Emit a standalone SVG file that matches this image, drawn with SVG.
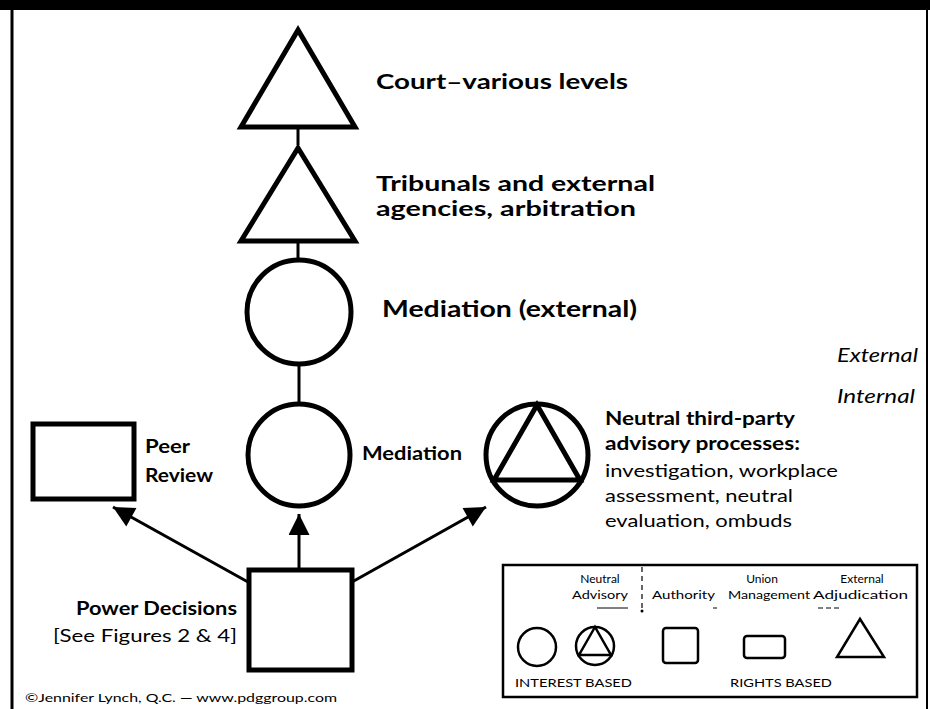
<svg xmlns="http://www.w3.org/2000/svg" width="930" height="709" viewBox="0 0 930 709">
<style>
.sh{fill:none;stroke:#000;stroke-width:5;stroke-linejoin:miter}
.lsh{fill:none;stroke:#000;stroke-width:2.5}
.ln{stroke:#000;stroke-width:3;fill:none}
.b{font-family:Lato,"Open Sans",sans-serif;font-weight:bold;fill:#000}
.r{font-family:Lato,"Open Sans",sans-serif;fill:#000}
.i{font-family:Lato,"Open Sans",sans-serif;font-style:italic;fill:#000}
.lg{font-family:Lato,"Liberation Sans",sans-serif;fill:#000;font-size:12px}
</style>
<defs>
<marker id="ah" viewBox="0 0 10 10" refX="10" refY="5" markerWidth="8" markerHeight="7" markerUnits="strokeWidth" orient="auto">
<path d="M0,0 L10,5 L0,10 z" fill="#000"/>
</marker>
</defs>
<rect x="0" y="0" width="930" height="710" fill="#fff"/>
<rect x="0" y="0" width="930" height="10" fill="#000"/>
<line x1="12" y1="10" x2="12" y2="709" stroke="#000" stroke-width="3"/>
<line x1="927" y1="10" x2="927" y2="709" stroke="#000" stroke-width="2"/>

<g id="connectors">
<line class="ln" x1="298" y1="129" x2="298" y2="145"/>
<line class="ln" x1="298" y1="243" x2="298" y2="260"/>
<line class="ln" x1="299" y1="365" x2="299" y2="403"/>
<line class="ln" x1="299" y1="568" x2="299" y2="514" marker-end="url(#ah)"/>
<line class="ln" x1="248" y1="582" x2="113" y2="507" marker-end="url(#ah)"/>
<line class="ln" x1="352" y1="582" x2="486" y2="507" marker-end="url(#ah)"/>
</g>

<g id="court">
<polygon class="sh" points="298,30 241,127 355,127"/>
<text class="b" x="376" y="89" font-size="21" textLength="252" lengthAdjust="spacingAndGlyphs">Court–various levels</text>
</g>
<g id="tribunals">
<polygon class="sh" points="298,148 241,241 355,241"/>
<text class="b" x="376" y="191" font-size="20" textLength="279" lengthAdjust="spacingAndGlyphs">Tribunals and external</text>
<text class="b" x="376" y="216" font-size="20" textLength="260" lengthAdjust="spacingAndGlyphs">agencies, arbitration</text>
</g>
<g id="mediation-external">
<circle class="sh" cx="299" cy="312" r="52" stroke-width="4.5"/>
<text class="b" x="382" y="317" font-size="22" textLength="255" lengthAdjust="spacingAndGlyphs">Mediation (external)</text>
</g>
<g id="scope">
<text class="i" x="837" y="362" font-size="19" textLength="81" lengthAdjust="spacingAndGlyphs">External</text>
<text class="i" x="837" y="403" font-size="19" textLength="78" lengthAdjust="spacingAndGlyphs">Internal</text>
</g>
<g id="mediation">
<circle class="sh" cx="299" cy="455" r="51" stroke-width="4.5"/>
<text class="b" x="362" y="460" font-size="19" textLength="100" lengthAdjust="spacingAndGlyphs">Mediation</text>
</g>
<g id="peer-review">
<rect class="sh" x="33" y="424" width="101" height="75"/>
<text class="b" x="145" y="453" font-size="19" textLength="45" lengthAdjust="spacingAndGlyphs">Peer</text>
<text class="b" x="145" y="482" font-size="19" textLength="68" lengthAdjust="spacingAndGlyphs">Review</text>
</g>
<g id="neutral">
<circle class="sh" cx="537" cy="455" r="51" stroke-width="4.5"/>
<polygon class="sh" points="537,405 494,480 580,480" stroke-width="4.5"/>
<text class="b" x="605" y="425" font-size="19" textLength="190" lengthAdjust="spacingAndGlyphs">Neutral third-party</text>
<text class="b" x="605" y="450" font-size="19" textLength="195" lengthAdjust="spacingAndGlyphs">advisory processes:</text>
<text class="r" x="605" y="477" font-size="18" textLength="233" lengthAdjust="spacingAndGlyphs">investigation, workplace</text>
<text class="r" x="605" y="502" font-size="18" textLength="188" lengthAdjust="spacingAndGlyphs">assessment, neutral</text>
<text class="r" x="605" y="527" font-size="18" textLength="187" lengthAdjust="spacingAndGlyphs">evaluation, ombuds</text>
</g>
<g id="power">
<rect class="sh" x="249" y="570" width="103" height="100"/>
<text class="b" x="237" y="615" font-size="19" text-anchor="end" textLength="161" lengthAdjust="spacingAndGlyphs">Power Decisions</text>
<text class="r" x="237" y="642" font-size="18" text-anchor="end" textLength="184" lengthAdjust="spacingAndGlyphs">[See Figures 2 &amp; 4]</text>
</g>
<g id="copyright">
<text class="r" x="25" y="702" font-size="12" textLength="312" lengthAdjust="spacingAndGlyphs">©Jennifer Lynch, Q.C. — www.pdggroup.com</text>
</g>

<g id="legend">
<rect x="503" y="565" width="414" height="132" fill="none" stroke="#000" stroke-width="2.5"/>
<text class="lg" x="600" y="583" text-anchor="middle">Neutral</text>
<text class="lg" x="572" y="599" textLength="56" lengthAdjust="spacingAndGlyphs">Advisory</text>
<line x1="597" y1="608" x2="628" y2="608" stroke="#000" stroke-width="1"/>
<line x1="642" y1="567" x2="642" y2="611" stroke="#000" stroke-width="1.2" stroke-dasharray="5,4"/>
<circle cx="642" cy="611" r="1.5" fill="#000"/>
<text class="lg" x="652" y="599" textLength="63" lengthAdjust="spacingAndGlyphs">Authority</text>
<line x1="713" y1="608" x2="717" y2="608" stroke="#000" stroke-width="1"/>
<text class="lg" x="762" y="583" text-anchor="middle">Union</text>
<text class="lg" x="728" y="599" textLength="82" lengthAdjust="spacingAndGlyphs">Management</text>
<text class="lg" x="862" y="583" text-anchor="middle">External</text>
<text class="lg" x="813" y="599" textLength="95" lengthAdjust="spacingAndGlyphs">Adjudication</text>
<line x1="818" y1="608" x2="840" y2="608" stroke="#000" stroke-width="1" stroke-dasharray="5,3"/>
<circle class="lsh" cx="537" cy="647" r="19"/>
<circle class="lsh" cx="595" cy="646" r="19"/>
<polygon class="lsh" points="595,627 579,655 611,655"/>
<rect class="lsh" x="663" y="628" width="35" height="35" rx="3"/>
<rect class="lsh" x="744" y="636" width="41" height="22" rx="3"/>
<polygon class="lsh" points="860,619 837,657 884,657"/>
<text class="lg" x="515" y="687" font-size="12" textLength="117" lengthAdjust="spacingAndGlyphs">INTEREST BASED</text>
<text class="lg" x="730" y="687" font-size="12" textLength="102" lengthAdjust="spacingAndGlyphs">RIGHTS BASED</text>
</g>
</svg>
